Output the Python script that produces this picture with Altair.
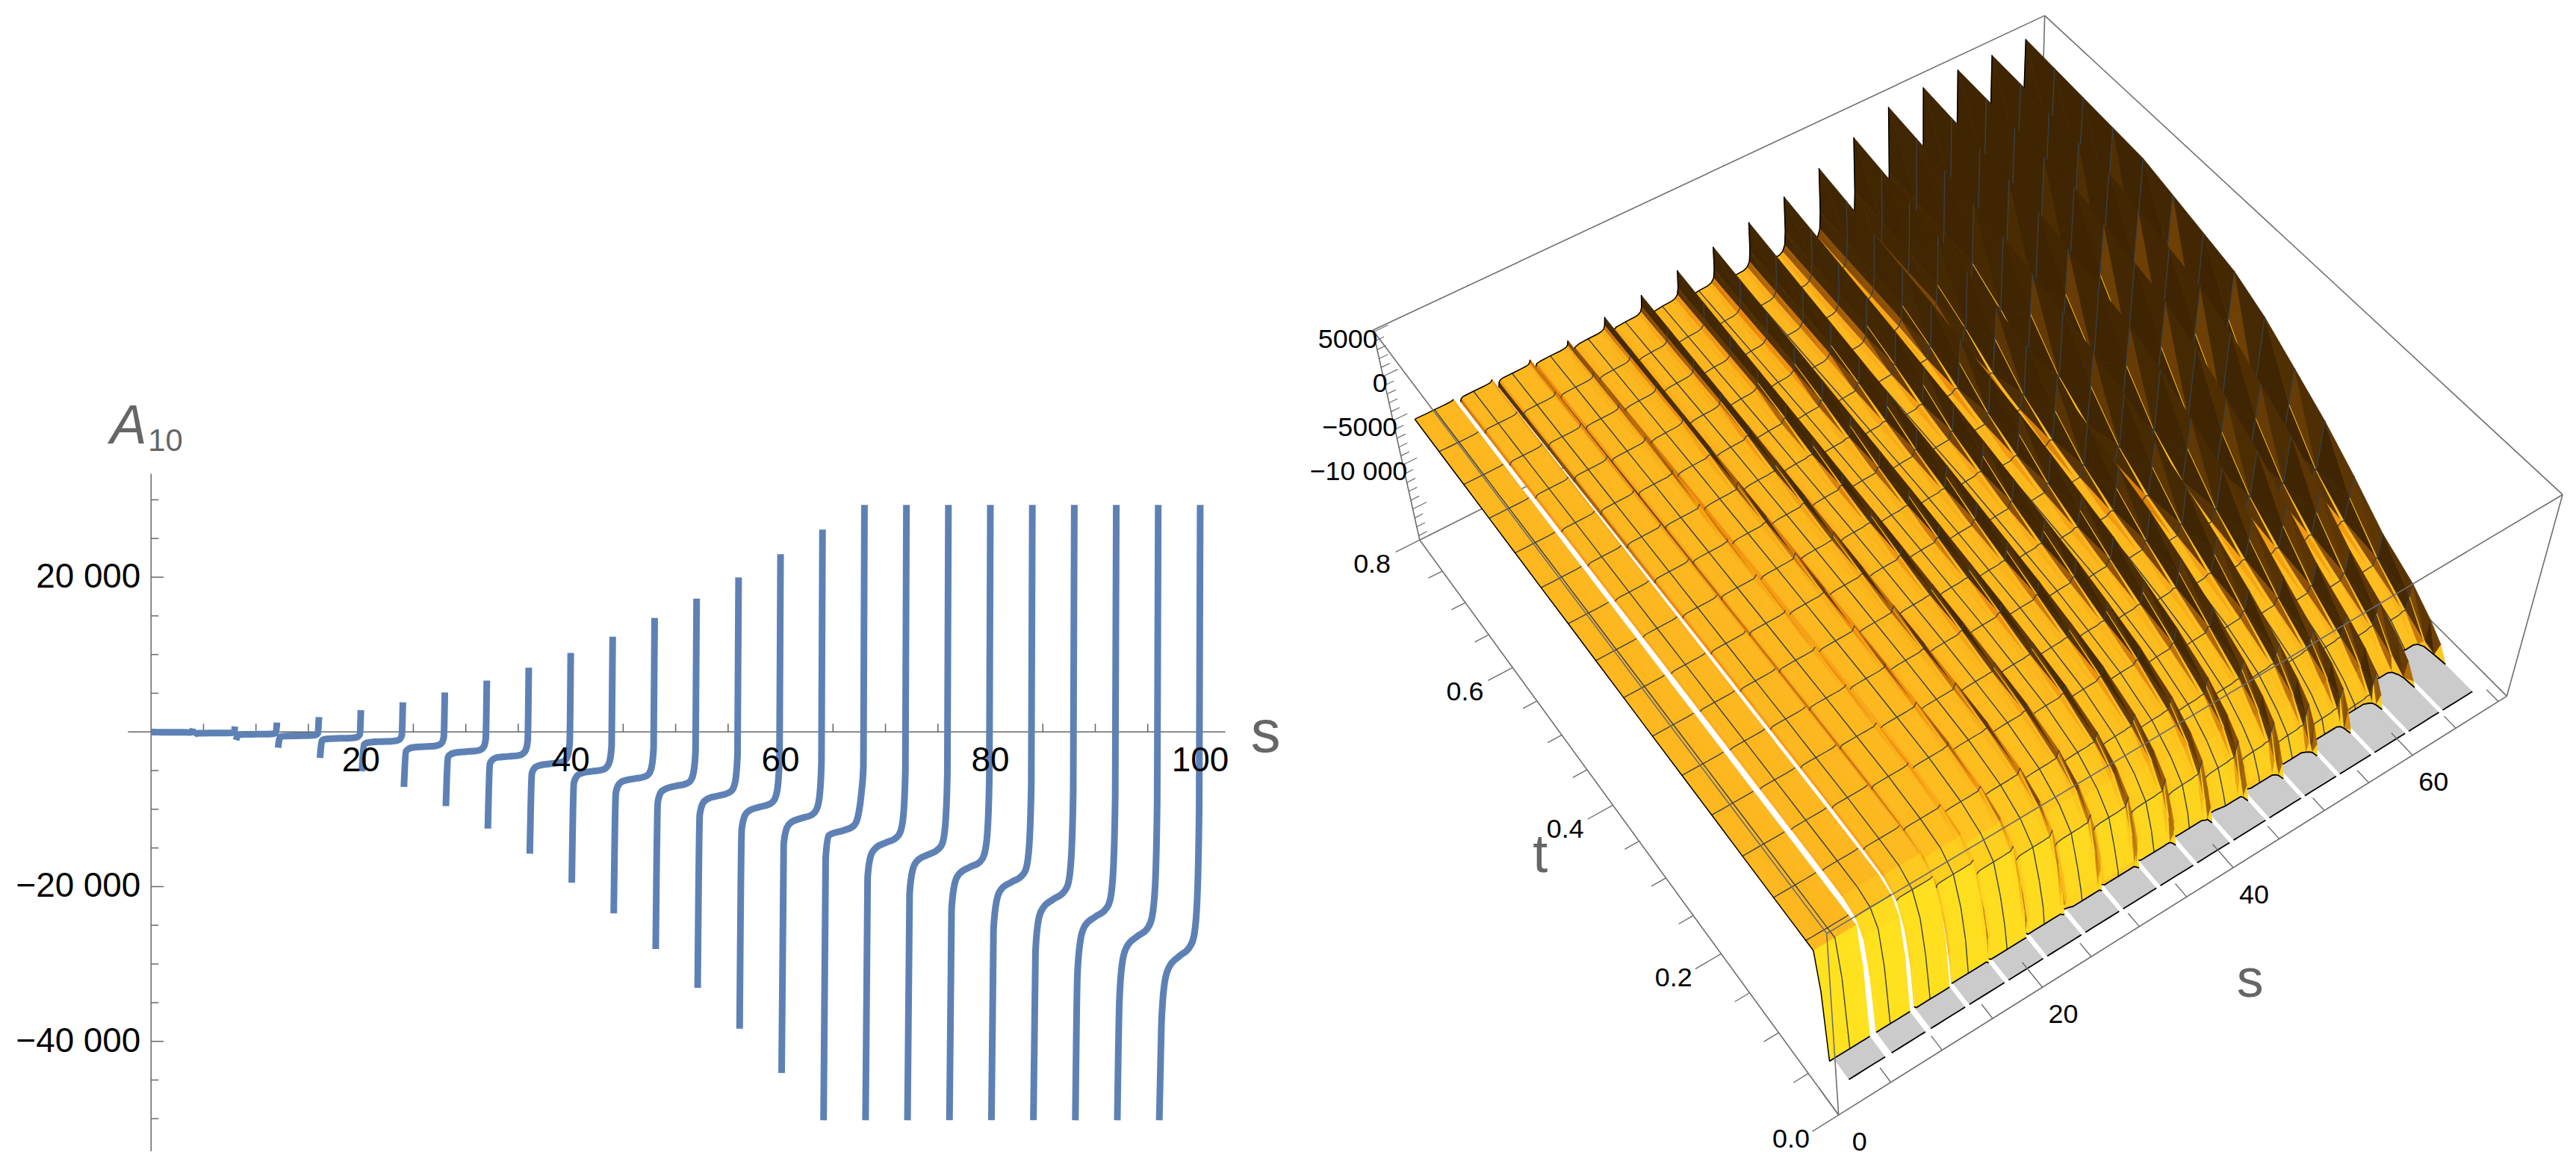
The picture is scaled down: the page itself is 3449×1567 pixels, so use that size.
import altair as alt
import numpy as np
import pandas as pd

# ---------- left panel: A10(s) ----------
OFFS = [0.1, 0.3, 0.6, 1.0, 2.0, 3.0, 3.4, 3.7, 3.9, 4.0]
SEG = {
 4:[-20,-30,-35,-40,-50,-55,-60,-70,-30,450],
 8:[-500,-200,-170,-160,-150,-145,-135,-115,-50,700],
 12:[-1060,-400,-340,-320,-300,-290,-270,-230,-100,1210],
 16:[-2040,-650,-560,-530,-500,-480,-450,-380,-170,1920],
 20:[-3370,-1100,-930,-880,-830,-790,-750,-630,-300,2810],
 24:[-5100,-1650,-1400,-1320,-1250,-1200,-1130,-950,-450,3830],
 28:[-7100,-2500,-2150,-2000,-1910,-1830,-1700,-1450,-650,5100],
 32:[-9600,-3300,-2850,-2700,-2550,-2450,-2300,-1950,-900,6630],
 36:[-12500,-4100,-3550,-3300,-3170,-3050,-2850,-2400,-1100,8300],
 40:[-15750,-5400,-4600,-4350,-4130,-3950,-3750,-3150,-1450,10210],
 44:[-19500,-6600,-5700,-5350,-5100,-4900,-4600,-3850,-1750,12310],
 48:[-23460,-7900,-6750,-6350,-6060,-5800,-5500,-4600,-2100,14730],
 52:[-28060,-9100,-7800,-7400,-7000,-6700,-6350,-5300,-2400,17230],
 56:[-33080,-10700,-9200,-8700,-8270,-7900,-7500,-6300,-2900,19970],
 60:[-38360,-12600,-10800,-10200,-9710,-9300,-8800,-7400,-3400,22980],
 64:[-44100,-14500,-12400,-11700,-11150,-10700,-10100,-8500,-3900,26160],
 68:[-50200,-16300,-13400,-13100,-12740,-12100,-10800,-7960,-4400,29350],
 72:[-50200,-18800,-16000,-15100,-14330,-13700,-13000,-10900,-4900,29350],
 76:[-50200,-20900,-17800,-16700,-15900,-15200,-14500,-12100,-5400,29350],
 80:[-50200,-23000,-19600,-18400,-17500,-16800,-15900,-13300,-6000,29350],
 84:[-50200,-25500,-21800,-20400,-19420,-18600,-17700,-14700,-6700,29350],
 88:[-50200,-28400,-24200,-22800,-21630,-20700,-19700,-16400,-7400,29350],
 92:[-50200,-31300,-26800,-25100,-23900,-22900,-21800,-18200,-8300,29350],
 96:[-50200,-34700,-29600,-27800,-26440,-25350,-24000,-20000,-9100,29350],
 100:[-50200,-38000,-32500,-30500,-29000,-27800,-26400,-22000,-10000,29350],
}
X_MAJOR = [20, 40, 60, 80, 100]
X_MINOR = [5,10,15,25,30,35,45,50,55,65,70,75,85,90,95]
Y_MAJOR = [20000, -20000, -40000]
Y_LABEL = ["20 000", "\u221220 000", "\u221240 000"]
Y_MINOR = [30000,25000,15000,10000,5000,-5000,-10000,-15000,-25000,-30000,-35000,-45000,-50000]

PXS, PXV = 14.1, 0.0104
LW, H = 1700, 1551
xs = alt.Scale(domain=[-195/PXS, (LW-195)/PXS], nice=False, zero=False)
ys = alt.Scale(domain=[-(H-973)/PXV, 973/PXV], nice=False, zero=False)
GR = "#666666"
FONT = "Liberation Sans"

rows = []
for end, vals in SEG.items():
    for i, (o, v) in enumerate(zip(OFFS, vals)):
        s = end - 4 + o if not (end == 4 and i == 0) else 0
        rows.append({"seg": end, "i": i, "s": s, "a": v})
curves = alt.Chart(pd.DataFrame(rows)).mark_line(interpolate="monotone", strokeWidth=9, color="#5E81B5", strokeCap="butt").encode(
    x=alt.X("s:Q", scale=xs, axis=None), y=alt.Y("a:Q", scale=ys, axis=None), detail="seg:N", order="i:Q")

def rule(df, **kw):
    return alt.Chart(pd.DataFrame(df)).mark_rule(color=GR, strokeWidth=1.5).encode(
        x=alt.X("x:Q", scale=xs, axis=None), x2="x2:Q", y=alt.Y("y:Q", scale=ys, axis=None), y2="y2:Q")

axes_df = [{"x":-2.2,"x2":102.4,"y":0,"y2":0},{"x":0,"x2":0,"y":33365,"y2":-54230}]
for t in X_MAJOR: axes_df.append({"x":t,"x2":t,"y":0,"y2":20/PXV})
for t in X_MINOR: axes_df.append({"x":t,"x2":t,"y":0,"y2":11/PXV})
for t in Y_MAJOR: axes_df.append({"x":0,"x2":17/PXS,"y":t,"y2":t})
for t in Y_MINOR: axes_df.append({"x":0,"x2":10/PXS,"y":t,"y2":t})
axes_l = rule(axes_df)
xl = alt.Chart(pd.DataFrame({"x":X_MAJOR,"y":[0]*5,"t":[str(v) for v in X_MAJOR]})).mark_text(
    font=FONT, fontSize=46, dy=39, color="black").encode(
    x=alt.X("x:Q", scale=xs, axis=None), y=alt.Y("y:Q", scale=ys, axis=None), text="t:N")
yl = alt.Chart(pd.DataFrame({"x":[0]*3,"y":Y_MAJOR,"t":Y_LABEL})).mark_text(
    font=FONT, fontSize=46, dx=-14, align="right", color="black").encode(
    x=alt.X("x:Q", scale=xs, axis=None), y=alt.Y("y:Q", scale=ys, axis=None), text="t:N")
def lab(t, x, y, size, color=GR, style="normal", align="left"):
    return alt.Chart(pd.DataFrame({"t":[t]})).mark_text(font=FONT, fontSize=size, color=color, fontStyle=style,
        align=align, baseline="alphabetic").encode(x=alt.value(x), y=alt.value(y), text="t:N")
left = alt.layer(axes_l, curves, xl, yl,
    lab("A", 140, 585, 74, style="italic"), lab("10", 191, 595, 42), lab("s", 1673, 1000, 80)
).properties(width=LW, height=H)

# ---------- right panel: surface, in box coordinates ----------
RW = 1733
OX, OY = 1708, 8
F, R, L, B = (2458,1496), (3356,933), (1895,723), (2727,305)
F2, R2, L2, B2 = (2442,1252), (3431,662), (1832,441), (2735,18)

def homography(pts):
    A, b = [], []
    for (u,v),(x,y) in zip([(0,0),(1,0),(0,1),(1,1)], pts):
        A.append([u,v,1,0,0,0,-u*x,-v*x]); b.append(x)
        A.append([0,0,0,u,v,1,-u*y,-v*y]); b.append(y)
    h = np.linalg.solve(np.array(A,float), np.array(b,float))
    return np.append(h,1).reshape(3,3)
H0 = homography([F,R,L,B]); H1 = homography([F2,R2,L2,B2])
def proj(u,v,w):
    a = H0 @ [u,v,1]; b = H1 @ [u,v,1]
    p0 = a[:2]/a[2]; p1 = b[:2]/b[2]
    p = p0+(p1-p0)*w
    return [round(float(p[0]-OX),1), round(float(p[1]-OY),1)]
def U(s): return 0.028+0.01385*s

V_NODES = [.03,.06,.075,.1,.18,.33,.52,.74,1]
PLATEAU = [
 [-.6,-.02,.53,.53,.53,.53,.53,.53,.53],
 [-.6,-.02,.42,.525,.527,.528,.528,.528,.528],
 [-.6,-.03,.33,.50,.52,.523,.525,.525,.525],
 [-.6,-.04,.25,.46,.505,.515,.518,.52,.52],
 [-.6,-.05,.18,.40,.48,.50,.51,.515,.515],
 [-.6,-.06,.14,.35,.45,.48,.50,.51,.51],
 [-.6,-.07,.10,.30,.42,.46,.485,.495,.50],
 [-.6,-.08,.07,.26,.39,.44,.47,.485,.49],
 [-.6,-.1,.05,.22,.36,.42,.455,.47,.48],
 [-.6,-.12,.03,.19,.33,.40,.44,.46,.47],
 [-.6,-.14,.015,.16,.30,.38,.42,.445,.455],
 [-.6,-.16,.0,.13,.27,.36,.40,.425,.44],
 [-.6,-.2,-.02,.1,.24,.33,.38,.41,.425],
 [-.6,-.23,-.05,.08,.2,.3,.36,.39,.41],
 [-.6,-.26,-.08,.04,.16,.26,.33,.37,.39],
 [-.6,-.3,-.12,-.02,.12,.23,.3,.34,.37],
 [-.6,-.3,-.15,-.05,.1,.2,.27,.31,.35],
]
TIP_FAR = [.535,.54,.546,.55,.575,.595,.628,.656,.69,.73,.784,.85,.915,.93,.936,.93,.93]
DECAY_HI = [.3,.3,.2,.17,.16,.47,.84,1,1]
DECAY_LO = [.35,.35,.3,.3,.3,.33,.42,.65,1]
DECAY_MIX = [0,0,0,0,0,0,.1,.15,.2,.3,.4,.55,.7,.85,1,1,1]
RIDGE_MIN = [0,0,.002,.012,.02,.028,.035,.04,.05,.06,.07,.08,.09,.1,.11,.12,.13]
OFF3 = [.2,.3,.55,1,2,3,3.4,3.7,3.85,3.97]
FIRST = {1:.6, 2:.5, 3:.3}
LOW = [1,.35,.1,.03,0,0,0,0,0,0]
UP = [0,0,0,0,0,.015,.05,.15,.38,1]
# facet ripple per column, from the saw-tooth shading along the ridges
RIPPLE = [0,0,0,0,0,.5,.9,1.1,.75,0]
ROWS = [.03,.045,.06,.07,.08,.095,.12,.16,.224,.289,.353,.418,.483,.547,.612,.677,.741,.806,.871,.935,1.0]
MESH_V = [.095,.16,.224,.289,.353,.418,.483,.547,.612,.677,.741,.806,.871,.935]
FINE = np.linspace(.03,1,400)

def wval(k, j, v, zz=0):
    P = np.interp(v, V_NODES, PLATEAU[k])
    amp = TIP_FAR[k]-PLATEAU[k][-1]
    m = DECAY_MIX[k]
    A = amp*(m*np.interp(v, V_NODES, DECAY_HI)+(1-m)*np.interp(v, V_NODES, DECAY_LO))
    A = max(A, RIDGE_MIN[k])
    return P + A*UP[j]*(1+zz*RIPPLE[j]) - 1.6*A*LOW[j]

GOLD=(253,183,30); OR=(240,140,12); MID=(150,85,6); DK=(70,42,2); YEL=(255,226,30)
def colour(dwdu, dwdv, dh, k):
    th = np.arctan(max(dwdu,0)*.22)/(np.pi/2)
    th *= min(1, abs(dh)/.02)
    base = [(0,GOLD),(.3,OR),(.6,MID),(.85,DK),(1,(62,36,2))]
    ph = np.arctan(max(dwdv,0)*.4)/(np.pi/2)
    ph = min(1,ph*1.3)
    th2 = th*(1-.35*ph)
    c = [np.interp(th2,[a for a,_ in base],[col[i] for _,col in base]) for i in range(3)]
    mix = ph*max(0,1-th2*1.4)*(1-.55*k/16)
    c = [c[i]*(1-mix)+YEL[i]*mix for i in range(3)]
    return "#%02x%02x%02x" % tuple(int(round(float(q))) for q in c)

feats = []
def poly(pts, fill, w=.7, stroke=None):
    feats.append({"type":"Feature","geometry":{"type":"Polygon","coordinates":[pts+[pts[0]]]},
                  "properties":{"f":fill,"c":stroke or fill,"w":w}})
def line(pts, col, w):
    feats.append({"type":"Feature","geometry":{"type":"LineString","coordinates":pts},
                  "properties":{"f":"none","c":col,"w":w}})
BOX = "#6e6e6e"
def box(a,b,w=1.6): line([proj(*a),proj(*b)],BOX,w)

box((0,1,0),(1,1,0)); box((1,1,0),(1,0,0)); box((1,1,0),(1,1,1))

for k in range(16,-1,-1):
    s0 = 4*k
    offs = ([0.0]+OFF3[1:]) if k==0 else list(OFF3)
    if k in FIRST:
        offs[0] = FIRST[k]; offs[1] = FIRST[k]+.1; offs[2] = max(offs[2],FIRST[k]+.25)
    ss = [s0+o for o in offs]
    idx = list(range(len(OFF3)))
    def wj(j,v,zz=0):
        if k==0 and j<4:
            return float(np.interp(v,V_NODES,PLATEAU[k]))
        return float(wval(k,j,v,zz))
    v0 = []
    for j in idx:
        vals = np.array([wj(j,v) for v in FINE])
        pos = np.where(vals>0)[0]
        v0.append(float(FINE[pos[0]]) if len(pos) else 1.0)
    gs = [max(s, s0+.4) for s in ss]
    pts = [proj(U(s),.03,0) for s in gs]+[proj(U(s),v,0) for s,v in zip(gs[::-1],v0[::-1])]
    poly(pts,"#cbcbcb",.3)
    def zz(i,j):
        if k<3 or ROWS[i]>.75: return 0
        return .6 if (i+j)%2 else -.6
    grid = [[(U(s), max(r,v0[j]), (0.0 if r<=v0[j] else max(wj(j,r,zz(i,j)),0))) for i,r in enumerate(ROWS)] for j,s in zip(idx,ss)]
    meshes = []
    for j in range(len(idx)-2,-1,-1):
        for i in range(len(ROWS)-2,-1,-1):
            a,b,c,d = grid[j][i],grid[j+1][i],grid[j+1][i+1],grid[j][i+1]
            if a[1]==d[1] and b[1]==c[1]: continue
            du = (b[0]-a[0]) or 1e-6
            dv = ROWS[i+1]-ROWS[i]
            dh1 = b[2]-a[2]; dh2 = c[2]-d[2]
            poly([proj(*a),proj(*c),proj(*d)],colour(dh2/du,(d[2]-a[2])/dv,dh2,k))
            poly([proj(*a),proj(*b),proj(*c)],colour(dh1/du,(c[2]-b[2])/dv,dh1,k))
            if round(ROWS[i],3) in MESH_V and a[1]==ROWS[i] and b[1]==ROWS[i]:
                meshes.append([proj(*a),proj(*b)])
            if j==4:
                meshes.append([proj(*a),proj(*d)])
    for m in meshes:
        line(m,"#3a4048",1.4)
    line([proj(U(s),v,0) for s,v in zip(ss,v0)],"#000000",1.8)
    line([proj(U(s),.03,0) for s in gs],"#000000",1.8)
    line([proj(g[-1][0],g[-1][1],g[-1][2]) for g in grid],"#000000",1.5)
    if k==0:
        line([proj(g[0],g[1],g[2]) for g in grid[0]],"#000000",1.5)

box((0,0,1),(1,0,1)); box((0,0,1),(0,1,1)); box((0,1,1),(1,1,1)); box((1,1,1),(1,0,1))
box((0,0,0),(0,0,1)); box((0,1,0),(0,1,1)); box((1,0,0),(1,0,1)); box((0,0,0),(1,0,0)); box((0,0,0),(0,1,0))

T_MAJOR=[0,.2,.4,.6,.8]; S_MAJOR=[0,20,40,60]; Z_MAJOR=[5000,0,-5000,-10000]
Z_LABEL=["5000","0","\u22125000","\u221210 000"]
def V(t): return t/.8
def US(s): return s/71.0
def WZ(z): return (z+18500)/23700
for t in np.arange(0,.801,.05):
    big = abs(t/.2-round(t/.2))<1e-6
    a=proj(0,V(t),0); du=.035 if big else .02
    line([a,proj(-du,V(t),0)],BOX,1.4)
for s in range(0,71,5):
    big = s%20==0
    a=proj(US(s),0,0); dv=.04 if big else .022
    line([a,proj(US(s),dv,0)],BOX,1.4)
for z in range(-18000,5001,1000):
    big = z%5000==0
    line([proj(0,1,WZ(z)),proj(0.02 if big else .012,1,WZ(z))],BOX,1.2)

surface = alt.Chart(alt.Data(values=feats)).mark_geoshape().encode(
    fill=alt.Fill("properties.f:N",scale=None),
    stroke=alt.Stroke("properties.c:N",scale=None),
    strokeWidth=alt.StrokeWidth("properties.w:Q",scale=None),
).project(type="identity",scale=1,translate=[0,0])

tx=[]
for t,txt in zip(T_MAJOR,["0.0","0.2","0.4","0.6","0.8"]):
    p=proj(0,V(t),0); tx.append({"lo":p[0]-64,"la":p[1]+33,"t":txt,"a":"center"})
for s,txt in zip(S_MAJOR,["0","20","40","60"]):
    p=proj(US(s),0,0); tx.append({"lo":p[0]+28,"la":p[1]+37,"t":txt,"a":"center"})
for z,txt in zip(Z_MAJOR,Z_LABEL):
    p=proj(0,1,WZ(z)); tx.append({"lo":p[0]+6,"la":p[1]+10,"t":txt,"a":"right"})
def tlayer(a):
    d=pd.DataFrame([r for r in tx if r["a"]==a])
    return alt.Chart(d).mark_text(font=FONT,fontSize=36,align=a,color="black").encode(
        x=alt.X("lo:Q",scale=None,axis=None),y=alt.Y("la:Q",scale=None,axis=None),text="t:N")
def rtitle(t,x,y):
    return alt.Chart(pd.DataFrame({"t":[t],"lo":[x-OX],"la":[y-OY]})).mark_text(font=FONT,fontSize=72,color=GR).encode(
        x=alt.X("lo:Q",scale=None,axis=None),y=alt.Y("la:Q",scale=None,axis=None),text="t:N")
right = alt.layer(surface,tlayer("center"),tlayer("right"),rtitle("t",2057,1147),rtitle("s",3011,1315)).properties(width=RW,height=H)

chart = alt.hconcat(left,right,spacing=0).properties(padding=0).configure_view(stroke=None)
chart.save("out.html", embed_options={"renderer":"svg","actions":False})
